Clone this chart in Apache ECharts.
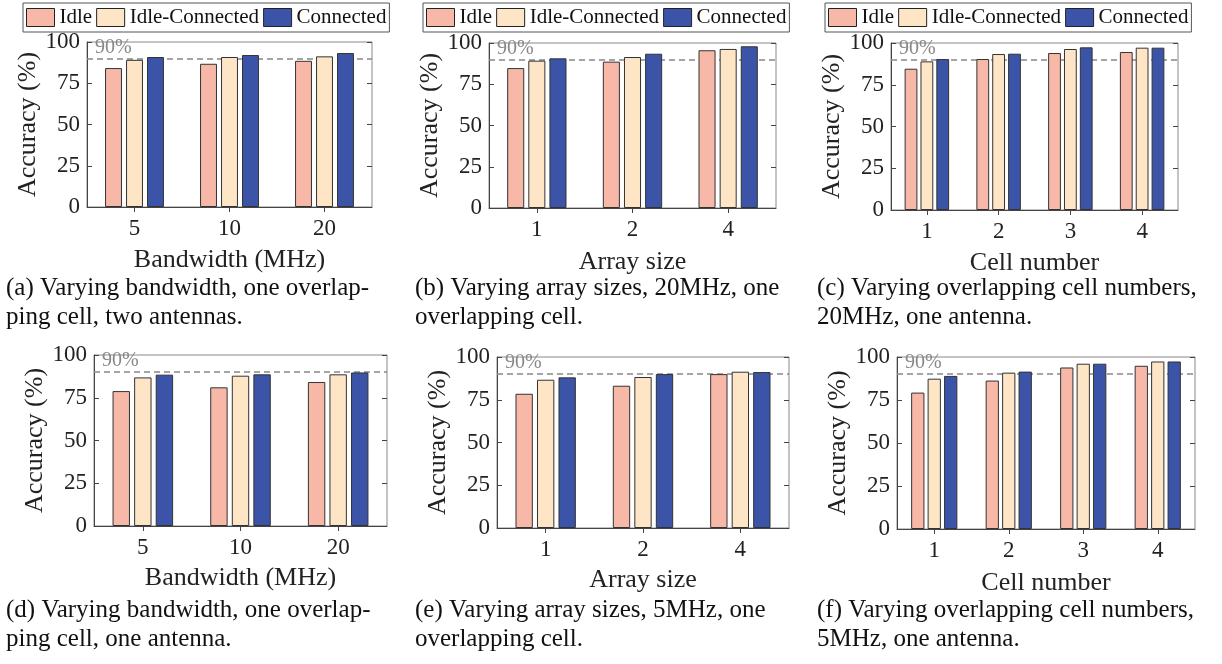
<!DOCTYPE html>
<html>
<head>
<meta charset="utf-8">
<script src="https://cdn.jsdelivr.net/npm/echarts@6/dist/echarts.min.js"></script>
<style>
html,body{margin:0;padding:0;background:#fff;}
#chart{width:1222px;height:664px;}
</style>
</head>
<body>
<div id="chart"></div>
<script>
// ---------- data ----------
const seriesNames = ['Idle', 'Idle-Connected', 'Connected'];
const catsBandwidth = ['5', '10', '20'];
const catsArray = ['1', '2', '4'];
const catsCell = ['1', '2', '3', '4'];
const yTicks = [0, 25, 50, 75, 100];
const threshold = 90;

// (a) bandwidth, one overlapping cell, two antennas
const idleA = [84.2, 86.8, 88.6];
const idleConnA = [89.2, 90.9, 91.3];
const connA = [90.9, 92.1, 93.3];
// (b) array size, 20MHz
const idleB = [84.8, 88.7, 95.6];
const idleConnB = [89.3, 91.5, 96.4];
const connB = [90.7, 93.5, 98.0];
// (c) cell number, 20MHz
const idleC = [84.6, 90.4, 94.0, 94.6];
const idleConnC = [89.0, 93.4, 96.4, 97.2];
const connC = [90.4, 93.6, 97.4, 97.2];
// (d) bandwidth, one antenna
const idleD = [78.9, 81.1, 84.2];
const idleConnD = [86.9, 87.9, 88.7];
const connD = [88.5, 88.7, 89.8];
// (e) array size, 5MHz
const idleE = [78.5, 83.2, 90.0];
const idleConnE = [86.7, 88.3, 91.4];
const connE = [88.1, 90.0, 91.2];
// (f) cell number, 5MHz
const idleF = [79.3, 86.3, 93.9, 94.9];
const idleConnF = [87.4, 90.9, 96.1, 97.4];
const connF = [89.0, 91.5, 96.1, 97.4];

const xNames = ['Bandwidth (MHz)', 'Array size', 'Cell number', 'Bandwidth (MHz)', 'Array size', 'Cell number'];
const yName = 'Accuracy (%)';
const captions = [
  '(a) Varying bandwidth, one overlap-\nping cell, two antennas.',
  '(b) Varying array sizes, 20MHz, one\noverlapping cell.',
  '(c) Varying overlapping cell numbers,\n20MHz, one antenna.',
  '(d) Varying bandwidth, one overlap-\nping cell, one antenna.',
  '(e) Varying array sizes, 5MHz, one\noverlapping cell.',
  '(f) Varying overlapping cell numbers,\n5MHz, one antenna.'
];

const panelCats = [catsBandwidth, catsArray, catsCell, catsBandwidth, catsArray, catsCell];
const panelValues = [
  [idleA, idleConnA, connA],
  [idleB, idleConnB, connB],
  [idleC, idleConnC, connC],
  [idleD, idleConnD, connD],
  [idleE, idleConnE, connE],
  [idleF, idleConnF, connF]
];

// ---------- layout / style ----------
const FONT = '"Liberation Serif", "Times New Roman", serif';
const colors = ['#F7B8A8', '#FDE5C6', '#3B54A7'];
const grids = [
  {left: 87, top: 42, width: 285, height: 165},
  {left: 489, top: 43, width: 287, height: 165},
  {left: 891, top: 43, width: 287, height: 167},
  {left: 94, top: 355, width: 293, height: 171},
  {left: 497, top: 357, width: 292, height: 171},
  {left: 897, top: 357, width: 298, height: 172}
];
const yNameGaps = [42, 43, 43, 46, 46, 46];
const xNameGaps = [40, 41, 40, 39, 39, 41];
const legendLefts = [23, 423, 825];
const captionPos = [[6, 274], [415, 274], [817, 274], [6, 596], [415, 596], [817, 596]];

const option = {
  animation: false,
  backgroundColor: '#fff',
  textStyle: {fontFamily: FONT},
  grid: grids.map(g => Object.assign({show: true, borderColor: '#888', borderWidth: 1, backgroundColor: 'transparent'}, g)),
  legend: legendLefts.map(l => ({
    left: l, top: 3,
    data: seriesNames,
    orient: 'horizontal',
    icon: 'rect',
    itemWidth: 28, itemHeight: 18, itemGap: 4,
    padding: [4, 3],
    borderColor: '#555', borderWidth: 1,
    textStyle: {fontFamily: FONT, fontSize: 21, color: '#111'},
    itemStyle: {borderColor: '#222', borderWidth: 1},
    selectedMode: false
  })),
  xAxis: [],
  yAxis: [],
  series: [],
  graphic: captions.map((t, i) => ({
    type: 'text', left: captionPos[i][0], top: captionPos[i][1],
    style: {text: t, font: '25px ' + FONT, fill: '#111', lineHeight: 29}
  }))
};

panelCats.forEach((cats, p) => {
  option.xAxis.push({
    type: 'category', gridIndex: p, data: cats, position: 'bottom',
    axisLine: {lineStyle: {color: '#444', width: 1}},
    axisTick: {show: true, inside: true, alignWithLabel: true, length: 5, lineStyle: {color: '#444'}},
    axisLabel: {fontFamily: FONT, fontSize: 23, color: '#222', margin: 10},
    name: xNames[p], nameLocation: 'middle', nameGap: xNameGaps[p],
    nameTextStyle: {fontFamily: FONT, fontSize: 26, color: '#222'}
  });
  option.xAxis.push({
    type: 'category', gridIndex: p, data: cats, position: 'top',
    axisLine: {show: false},
    axisTick: {show: true, inside: true, alignWithLabel: true, length: 5, lineStyle: {color: '#444'}},
    axisLabel: {show: false}
  });
  option.yAxis.push({
    type: 'value', gridIndex: p, min: yTicks[0], max: yTicks[yTicks.length - 1], interval: yTicks[1] - yTicks[0],
    position: 'left',
    axisLine: {show: true, lineStyle: {color: '#444', width: 1}},
    axisTick: {show: true, inside: true, length: 5, lineStyle: {color: '#444'}},
    splitLine: {show: false},
    axisLabel: {fontFamily: FONT, fontSize: 23, color: '#222', margin: 7},
    name: yName, nameLocation: 'middle', nameGap: yNameGaps[p],
    nameTextStyle: {fontFamily: FONT, fontSize: 26, color: '#222'}
  });
  option.yAxis.push({
    type: 'value', gridIndex: p, min: yTicks[0], max: yTicks[yTicks.length - 1], interval: yTicks[1] - yTicks[0],
    position: 'right',
    axisLine: {show: false},
    axisTick: {show: true, inside: true, length: 5, lineStyle: {color: '#444'}},
    splitLine: {show: false},
    axisLabel: {show: false}
  });
  panelValues[p].forEach((vals, s) => {
    const ser = {
      type: 'bar', name: seriesNames[s],
      xAxisIndex: p * 2, yAxisIndex: p * 2,
      data: vals,
      barGap: '24%', barCategoryGap: '38%',
      itemStyle: {color: colors[s], borderColor: '#333', borderWidth: 1},
      emphasis: {disabled: true}
    };
    if (s === 0) {
      ser.markLine = {
        silent: true, symbol: 'none', z: 1,
        lineStyle: {type: [6, 4], color: '#888', width: 1.5},
        label: {show: true, position: 'insideStartTop', formatter: '90%', color: '#888',
                fontFamily: FONT, fontSize: 20, distance: [8, 1]},
        data: [{yAxis: threshold}]
      };
    }
    option.series.push(ser);
  });
});

const chart = echarts.init(document.getElementById('chart'), null, {renderer: 'canvas'});
chart.setOption(option);
</script>
</body>
</html>
